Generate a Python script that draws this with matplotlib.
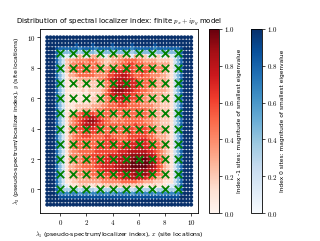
import numpy as np
import matplotlib
matplotlib.use("Agg")
import matplotlib.pyplot as plt
from matplotlib.ticker import FuncFormatter

plt.rcParams['mathtext.fontset'] = 'cm'
plt.rcParams['font.family'] = ['DejaVu Sans']

# probe grid (x and y coordinates of the dots)
grid_vals = np.linspace(-1, 10, 45)
# lattice sites (green crosses)
site_x = list(range(10))
site_y = list(range(10))

# Smallest-eigenvalue magnitude per probe point, rows from top (y=10) to bottom (y=-1).
# digits '0'-'9': index 0 sites (value = d/9); letters 'a'-'j': index -1 sites (value = (l-'a'+1)/10)
rows = [
    "9999 9999 9999 9999 9999 9999 9999 9999 9999 9999 9999 9",
    "9999 9999 9999 9999 9999 9999 9999 9999 9999 9999 9999 9",
    "9999 9999 9899 9989 9999 8999 9989 9999 9899 9999 9999 9",
    "9998 7777 7767 7776 7777 6777 7767 7777 7677 7777 7899 9",
    "9997 4444 4434 4443 4444 3444 4434 4444 4344 4444 4799 9",
    "9997 4212 1bcb 1bcc b11b cbcc bb1c bcb1 1bb1 1b12 4799 9",
    "9997 42bc cddd deed ccbb ccdd eeee ddcc ccbb bba2 4799 9",
    "9997 42bc ddee dede dcbc cdde effe eedd ddcc cca2 4799 9",
    "9997 42bd deee dded eccd ddee fffe eeee dddd cba2 4799 9",
    "9997 42bc deee eeed ddde fggg gffe effe eddd cba2 4799 9",
    "9997 42ac cdee eeed dddf fggh hgfe efee dddc cba2 4799 9",
    "9997 42ab bbcc cccc ddef ghhh hggf eeee edcc cba2 4799 9",
    "9997 42aa abbb bbbb bcde fghh hhgg feee edcc cba2 4799 9",
    "9997 42aa aabb abbb bbde ghii ihgg feed ddcc cba2 4799 9",
    "9997 42aa aaab abbb bcdf hiii hhgf feed dccc cba2 4799 9",
    "9997 42aa aaaa abab bcef ghhh ggff eedd cccc bba2 4799 9",
    "9997 42aa aaaa aabb bcde fggh ggff eddc cccb bba2 4799 9",
    "9997 42aa aaab abbb ccde effg ffee eddd cccb bba2 4799 9",
    "9997 42aa abbb bbcc cdde eeff feee eddd dccb bba2 4799 9",
    "9997 42aa abbc cccd ddee eeee eeee eeed dccb bba2 4799 9",
    "9997 42ab cdef gffe eeee eeee eeee eeed dccb bba2 4799 9",
    "9997 42ac deff ghhg feee ddde eeee eeed dccb bba2 4799 9",
    "9997 42ac defg hiih gfee dded eeee eedd dccb bba2 4799 9",
    "9997 42ac defg hhhg ffee eeee eeef eeed dccb bba2 4799 9",
    "9997 42ac deff gggf feee eeee effe fffe edcc cba2 4799 9",
    "9997 42ac ddef ffff eeee eeee effe fffe edcc cba2 4799 9",
    "9997 42ac deef ffee eeff eeee efff fffe edcc cba2 4799 9",
    "9997 42ac deee eeee eeff ffee efff gggf eedc cba2 4799 9",
    "9997 42ac deee eeee efff ffff fggg gggf feec cba2 4799 9",
    "9997 42ac deee eeef ffff fffg gggh hhgg ffed cba2 4799 9",
    "9997 42ac ddee eeef ffff ffgg ghhh hhhg gfed cba2 4799 9",
    "9997 42ac ddde eeff fffg gggh hhii iiih hged cba2 4799 9",
    "9997 42ac ddde eeff ffgg gghh hiij jjji ihfe cba2 4799 9",
    "9997 42ac cdde eeef fggg ghhh iijj jjjj ihfe cba2 4799 9",
    "9997 42ac cdde eeef fggg ghhi iijj jjji ihfe cba2 4799 9",
    "9997 42ac cddd deee ffgg ghhh iiii iiih hgfd cba2 4799 9",
    "9997 42ab ccdd ddee eeff ffgg hhhi iiih gfed bba2 4799 9",
    "9997 42ab bccc cddd deee effg gghh hggf edcc bba2 4799 9",
    "9997 42aa bbcc cccc cddd ddde eeee ddcc cbbb aaa2 4799 9",
    "9997 421a aabb baab abbb bbbb bbbb bbaa abaa a112 4799 9",
    "9997 4333 3323 3332 3333 2333 3323 3333 3233 3333 3799 9",
    "9998 6666 6656 6566 6666 5666 6656 6666 6566 6666 6899 9",
    "9999 8888 8888 8888 8888 8888 8888 8888 8888 8888 8999 9",
    "9999 9999 9999 9999 9999 9999 9999 9999 9999 9999 9999 9",
    "9999 9999 9999 9999 9999 9999 9999 9999 9999 9999 9999 9",
]

ticks = [0, 2, 4, 6, 8, 10]
cbar_ticks = [0.0, 0.2, 0.4, 0.6, 0.8, 1.0]

bx, by, bv, rx, ry, rv = [], [], [], [], [], []
ys = grid_vals[::-1]
for r, row in enumerate(rows):
    s = row.replace(" ", "")
    for j, ch in enumerate(s):
        if ch.isdigit():
            bx.append(grid_vals[j]); by.append(ys[r]); bv.append(int(ch) / 9)
        else:
            rx.append(grid_vals[j]); ry.append(ys[r]); rv.append((ord(ch) - 96) / 10)

fig = plt.figure(figsize=(3.2, 2.41), dpi=100)
ax = fig.add_axes([0.125, 0.116, 0.495, 0.764])
sb = ax.scatter(bx, by, c=bv, cmap='Blues', vmin=0, vmax=1, s=8, linewidths=0)
sr = ax.scatter(rx, ry, c=rv, cmap='Reds', vmin=0, vmax=1, s=8, linewidths=0)
SX, SY = np.meshgrid(site_x, site_y)
ax.scatter(SX.ravel(), SY.ravel(), marker='x', color='green', s=28, linewidths=1.3)

ax.set_xticks(ticks)
ax.set_yticks(ticks)
fmt = FuncFormatter(lambda v, p: r"$%d$" % v)
ax.xaxis.set_major_formatter(fmt)
ax.yaxis.set_major_formatter(fmt)
ax.tick_params(labelsize=5, length=2, width=0.5, pad=1.5)
for sp in ax.spines.values():
    sp.set_linewidth(0.6)
ax.set_xlabel(r"$\lambda_1$ (pseudo-spectrum/localizer index), $x$ (site locations)", fontsize=4.4, labelpad=2)
ax.set_ylabel(r"$\lambda_2$ (pseudo-spectrum/localizer index), $y$ (site locations)", fontsize=4.4, labelpad=3)
ax.set_title(r"Distribution of spectral localizer index: finite $p_x + ip_y$ model", fontsize=5, pad=4)

cfmt = FuncFormatter(lambda v, p: r"$%.1f$" % v)
cax1 = fig.add_axes([0.653, 0.116, 0.031, 0.764])
cb1 = fig.colorbar(sr, cax=cax1, ticks=cbar_ticks, format=cfmt)
cb1.set_label("Index -1 sites: magnitude of smallest eigenvalue", fontsize=4.2, labelpad=2)
cax2 = fig.add_axes([0.784, 0.116, 0.034, 0.764])
cb2 = fig.colorbar(sb, cax=cax2, ticks=cbar_ticks, format=cfmt)
cb2.set_label("Index 0 sites: magnitude of smallest eigenvalue", fontsize=4.2, labelpad=2)
for cb in (cb1, cb2):
    cb.ax.tick_params(labelsize=5, length=2, width=0.5, pad=1.5)
    cb.outline.set_linewidth(0.6)

fig.savefig("out.png", dpi=100)
